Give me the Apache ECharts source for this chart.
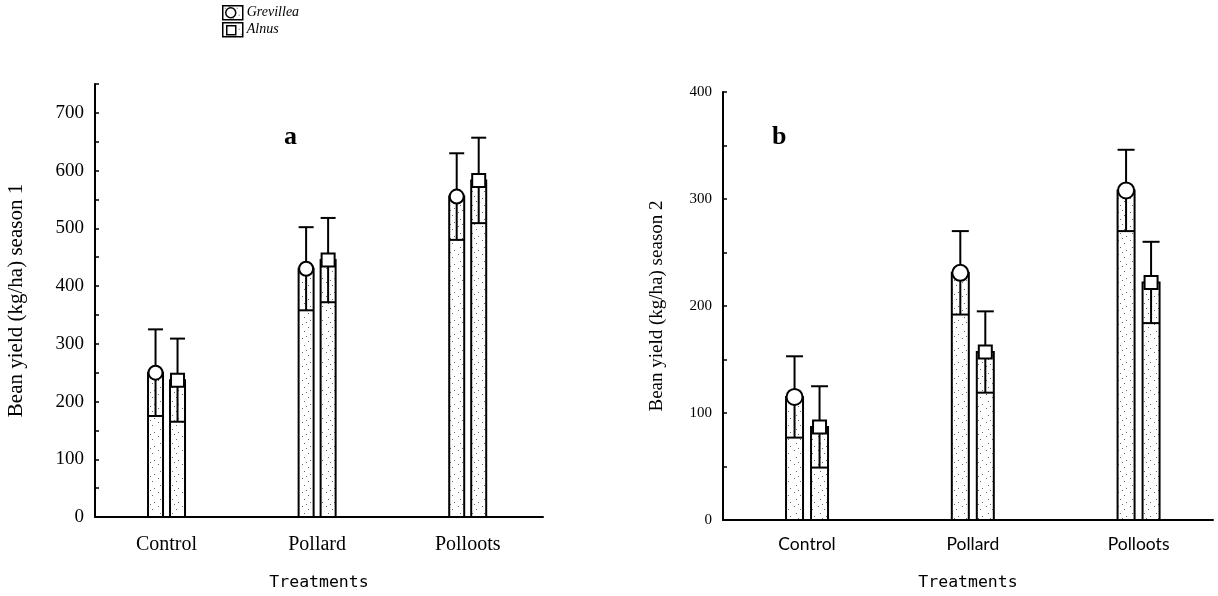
<!DOCTYPE html>
<html>
<head>
<meta charset="utf-8">
<script src="https://cdn.jsdelivr.net/npm/echarts@6/dist/echarts.min.js"></script>
<style>
  html, body { margin: 0; padding: 0; background: #fff; }
  #chart { width: 1218px; height: 596px; }
</style>
</head>
<body>
<div id="chart"></div>
<script>
// Treatments on the horizontal axis (placed at 1, 2, 3)
const categories = ['Control', 'Pollard', 'Polloots'];
const categoryPos = [1, 2, 3];

// Season 1 bean yield (kg/ha): means and standard errors
const season1Grevillea = [250, 430, 555];
const season1GrevilleaSE = [75, 72, 75];
const season1Alnus = [237, 445, 583];
const season1AlnusSE = [72, 73, 74];

// Season 2 bean yield (kg/ha): means and standard errors
const season2Grevillea = [115, 231, 308];
const season2GrevilleaSE = [38, 39, 38];
const season2Alnus = [87, 157, 222];
const season2AlnusSE = [38, 38, 38];

const legendNames = ['Grevillea', 'Alnus'];

// Stippled fill used inside the bars
function makeStipple() {
  const c = document.createElement('canvas');
  c.width = 12; c.height = 14;
  const g = c.getContext('2d');
  g.fillStyle = '#ffffff';
  g.fillRect(0, 0, c.width, c.height);
  g.fillStyle = '#6a6a6a';
  [[2, 2], [8, 5], [4, 9], [10, 12], [6, 0]].forEach(function (p) { g.fillRect(p[0], p[1], 1, 1); });
  return c;
}
const stipple = { image: makeStipple(), repeat: 'repeat' };

const ink = '#000';

function toRows(means, ses) {
  return categoryPos.map(function (x, i) { return [x, means[i], ses[i]]; });
}

// One bar with its stippled body, inner error bar and mean marker
function barRenderer(offsetPx, barW, marker) {
  return function (params, api) {
    const x = api.value(0), m = api.value(1), se = api.value(2);
    const base = api.coord([x, 0]);
    const top = api.coord([x, m]);
    const hi = api.coord([x, m + se]);
    const lo = api.coord([x, m - se]);
    const cx = base[0] + offsetPx;
    const half = barW / 2;
    const line = { stroke: ink, lineWidth: 2 };
    const children = [
      { type: 'rect', shape: { x: cx - half, y: top[1], width: barW, height: base[1] - top[1] },
        style: { fill: stipple, stroke: ink, lineWidth: 2 } },
      { type: 'line', shape: { x1: cx, y1: lo[1], x2: cx, y2: hi[1] }, style: line },
      { type: 'line', shape: { x1: cx - half, y1: lo[1], x2: cx + half, y2: lo[1] }, style: line },
      { type: 'line', shape: { x1: cx - half, y1: hi[1], x2: cx + half, y2: hi[1] }, style: line }
    ];
    if (marker.kind === 'circle') {
      children.push({ type: 'circle', shape: { cx: cx, cy: top[1], r: marker.size / 2 },
        style: { fill: '#fff', stroke: ink, lineWidth: 2 } });
    } else {
      children.push({ type: 'rect', shape: { x: cx - marker.size / 2, y: top[1] - marker.size / 2, width: marker.size, height: marker.size },
        style: { fill: '#fff', stroke: ink, lineWidth: 2 } });
    }
    return { type: 'group', children: children };
  };
}

function yAxisFor(gridIndex, max, name, labelSize, nameSize, nameGap) {
  return {
    type: 'value', gridIndex: gridIndex, min: 0, max: max, interval: 50,
    name: name, nameLocation: 'middle', nameGap: nameGap, nameRotate: 90,
    nameTextStyle: { fontFamily: 'Liberation Serif', fontSize: nameSize, color: ink },
    axisLine: { show: true, lineStyle: { color: ink, width: 2 } },
    axisTick: { show: true, inside: true, length: 4, lineStyle: { color: ink, width: 1.5 } },
    axisLabel: { fontFamily: 'Liberation Serif', fontSize: labelSize, color: ink, margin: 11,
      formatter: function (v) { return v % 100 === 0 ? String(v) : ''; } },
    splitLine: { show: false }
  };
}

function xAxisFor(gridIndex, min, max, labelFont, labelSize, labelMargin, nameGap) {
  return {
    type: 'value', gridIndex: gridIndex, min: min, max: max,
    name: 'Treatments', nameLocation: 'middle', nameGap: nameGap,
    nameTextStyle: { fontFamily: 'DejaVu Sans Mono', fontSize: 16.5, color: ink },
    axisLine: { show: true, onZero: false, lineStyle: { color: ink, width: 2 } },
    axisTick: { show: false },
    axisLabel: { customValues: categoryPos, fontFamily: labelFont, fontSize: labelSize, color: ink, margin: labelMargin,
      formatter: function (v) { const i = categoryPos.indexOf(v); return i >= 0 ? categories[i] : ''; } },
    splitLine: { show: false }
  };
}

const chart = echarts.init(document.getElementById('chart'), null, { renderer: 'canvas' });

const option = {
  backgroundColor: '#fff',
  animation: false,
  grid: [
    { left: 95, top: 84, width: 448, height: 433 },
    { left: 723, top: 92, width: 490, height: 433 }
  ],
  xAxis: [
    xAxisFor(0, 0.525, 3.5, 'Liberation Serif', 20, 18, 57),
    xAxisFor(1, 0.493, 3.449, 'Lato', 17.5, 15, 54)
  ],
  yAxis: [
    yAxisFor(0, 750, 'Bean yield (kg/ha) season 1', 19, 21, 68),
    yAxisFor(1, 400, 'Bean yield (kg/ha) season 2', 15, 19, 56)
  ],
  graphic: [
    { type: 'text', left: 284, top: 124, style: { text: 'a', font: 'bold 26px "Liberation Serif"', fill: ink } },
    { type: 'text', left: 772, top: 124, style: { text: 'b', font: 'bold 26px "Liberation Serif"', fill: ink } },
    // legend
    { type: 'group', left: 222, top: 5, children: [
      { type: 'rect', shape: { x: 0, y: 0, width: 20, height: 14 }, style: { fill: stipple, stroke: ink, lineWidth: 1.5 } },
      { type: 'circle', shape: { cx: 8, cy: 7, r: 5 }, style: { fill: '#fff', stroke: ink, lineWidth: 1.5 } },
      { type: 'text', x: 24, y: 0, style: { text: legendNames[0], font: 'italic 14px "Liberation Serif"', fill: ink } },
      { type: 'rect', shape: { x: 0, y: 17, width: 20, height: 14 }, style: { fill: stipple, stroke: ink, lineWidth: 1.5 } },
      { type: 'rect', shape: { x: 4, y: 20, width: 9, height: 9 }, style: { fill: '#fff', stroke: ink, lineWidth: 1.5 } },
      { type: 'text', x: 24, y: 17, style: { text: legendNames[1], font: 'italic 14px "Liberation Serif"', fill: ink } }
    ] }
  ],
  series: [
    { name: legendNames[0], type: 'custom', xAxisIndex: 0, yAxisIndex: 0, data: toRows(season1Grevillea, season1GrevilleaSE),
      renderItem: barRenderer(-11, 15, { kind: 'circle', size: 14 }), clip: false },
    { name: legendNames[1], type: 'custom', xAxisIndex: 0, yAxisIndex: 0, data: toRows(season1Alnus, season1AlnusSE),
      renderItem: barRenderer(11, 15, { kind: 'square', size: 13 }), clip: false },
    { name: legendNames[0], type: 'custom', xAxisIndex: 1, yAxisIndex: 1, data: toRows(season2Grevillea, season2GrevilleaSE),
      renderItem: barRenderer(-12.5, 17, { kind: 'circle', size: 16 }), clip: false },
    { name: legendNames[1], type: 'custom', xAxisIndex: 1, yAxisIndex: 1, data: toRows(season2Alnus, season2AlnusSE),
      renderItem: barRenderer(12.5, 17, { kind: 'square', size: 13 }), clip: false }
  ]
};

chart.setOption(option);
</script>
</body>
</html>
